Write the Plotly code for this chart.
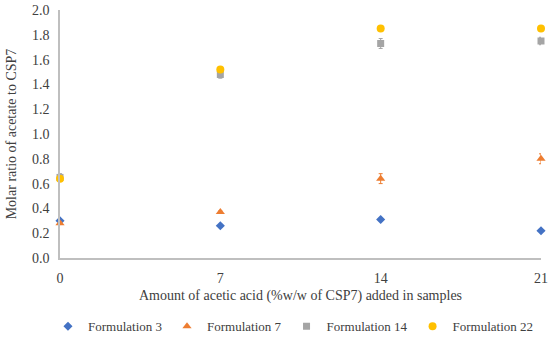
import plotly.graph_objects as go

x_vals = [0, 7, 14, 21]
f3 = [0.30, 0.26, 0.31, 0.22]
f7 = [0.28, 0.37, 0.64, 0.80]
f14 = [0.65, 1.48, 1.73, 1.75]
f22 = [0.64, 1.52, 1.85, 1.85]
f3_err = [0.01, 0.01, 0.01, 0.01]
f7_err = [0.01, 0.01, 0.04, 0.04]
f14_err = [0.03, 0.03, 0.04, 0.03]
f22_err = [0.01, 0.01, 0.01, 0.01]

series = [
    ("Formulation 3", f3, f3_err, "#4472C4", "diamond", 7),
    ("Formulation 7", f7, f7_err, "#ED7D31", "triangle-up", 8),
    ("Formulation 14", f14, f14_err, "#A5A5A5", "square", 7),
    ("Formulation 22", f22, f22_err, "#FFC000", "circle", 8),
]

fig = go.Figure()
for name, ys, err, color, sym, size in series:
    fig.add_trace(go.Scatter(
        x=x_vals, y=ys, mode="markers", name=name,
        marker=dict(color=color, symbol=sym, size=size),
        error_y=dict(type="data", array=err, color=color, thickness=1, width=2),
        cliponaxis=False,
    ))

font = "Liberation Serif"
txt = "#404040"
fig.update_layout(
    width=550, height=348,
    margin=dict(l=60, r=9, t=10, b=90, autoexpand=False),
    paper_bgcolor="white", plot_bgcolor="white",
    font=dict(family=font, size=14, color=txt),
    showlegend=True,
    legend=dict(orientation="h", x=-0.025, xanchor="left", y=-0.215, yanchor="top",
                itemwidth=30, tracegroupgap=0,
                font=dict(family=font, size=13, color=txt)),
    xaxis=dict(range=[0, 21], tickvals=x_vals, showgrid=False, zeroline=False,
               showline=True, linecolor="#BFBFBF", linewidth=1.5, ticks="",
               automargin=False,
               title=dict(text="Amount of acetic acid (%w/w of CSP7) added in samples",
                          font=dict(family=font, size=14, color=txt), standoff=6),
               tickfont=dict(family=font, size=14, color=txt), ticklabelstandoff=6),
    yaxis=dict(range=[0, 2.0], dtick=0.2, tickformat=".1f", showgrid=False, zeroline=False,
               showline=True, linecolor="#BFBFBF", linewidth=1.5, ticks="",
               automargin=False,
               title=dict(text="Molar ratio of acetate to CSP7",
                          font=dict(family=font, size=14, color=txt), standoff=12),
               tickfont=dict(family=font, size=14, color=txt), ticklabelstandoff=6),
)

fig.write_html("out.html", config={"displayModeBar": False},
               post_script="document.body.style.margin='0';document.body.style.overflow='hidden';")
